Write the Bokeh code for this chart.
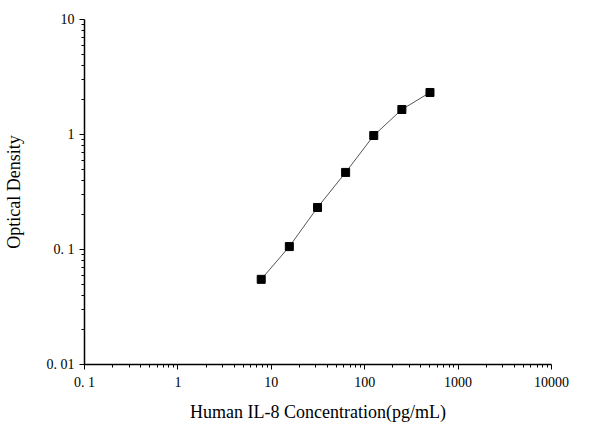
from bokeh.embed import file_html
from bokeh.models import FixedTicker
from bokeh.plotting import figure
from bokeh.resources import INLINE

# 標準曲線のデータ
conc = [7.8, 15.6, 31.25, 62.5, 125, 250, 500]
od = [0.055, 0.106, 0.232, 0.468, 0.98, 1.65, 2.32]

x_ticks = [0.1, 1, 10, 100, 1000, 10000]
x_labels = ["0. 1", "1", "10", "100", "1000", "10000"]
y_ticks = [0.01, 0.1, 1, 10]
y_labels = ["0. 01", "0. 1", "1", "10"]

p = figure(frame_width=467, frame_height=345, x_axis_type="log", y_axis_type="log",
           x_range=(0.1, 10000), y_range=(0.01, 10),
           output_backend="svg", toolbar_location=None,
           min_border_left=84, min_border_right=49, min_border_top=19, min_border_bottom=60)
p.outline_line_color = None
p.xgrid.visible = False
p.ygrid.visible = False

p.line(conc, od, line_color="#555555", line_width=1)
p.scatter(conc, od, marker="square", size=8, fill_color="black", line_color="black")

p.xaxis.ticker = FixedTicker(ticks=x_ticks, minor_ticks=[m * 10 ** e for e in range(-1, 4) for m in range(2, 10)])
p.yaxis.ticker = FixedTicker(ticks=y_ticks, minor_ticks=[m * 10 ** e for e in range(-2, 1) for m in range(2, 10)])
p.xaxis.major_label_overrides = dict(zip(x_ticks, x_labels))
p.yaxis.major_label_overrides = dict(zip(y_ticks, y_labels))

p.xaxis.axis_label = "Human IL-8 Concentration(pg/mL)"
p.yaxis.axis_label = "Optical Density"

for ax in (p.xaxis, p.yaxis):
    ax.axis_line_color = "black"
    ax.axis_line_width = 1.5
    ax.major_tick_line_color = "black"
    ax.minor_tick_line_color = "black"
    ax.major_tick_out = 5
    ax.major_tick_in = 0
    ax.minor_tick_out = 3
    ax.minor_tick_in = 0
    ax.major_label_text_font = "Liberation Serif"
    ax.major_label_text_font_size = "14px"
    ax.major_label_text_color = "black"
    ax.axis_label_text_font = "Liberation Serif"
    ax.axis_label_text_font_size = "18px"
    ax.axis_label_text_font_style = "normal"
    ax.axis_label_text_color = "black"

p.xaxis.major_label_standoff = 5
p.xaxis.axis_label_standoff = 9
p.yaxis.axis_label_standoff = 20

open("out.html", "w").write(file_html(p, INLINE))
